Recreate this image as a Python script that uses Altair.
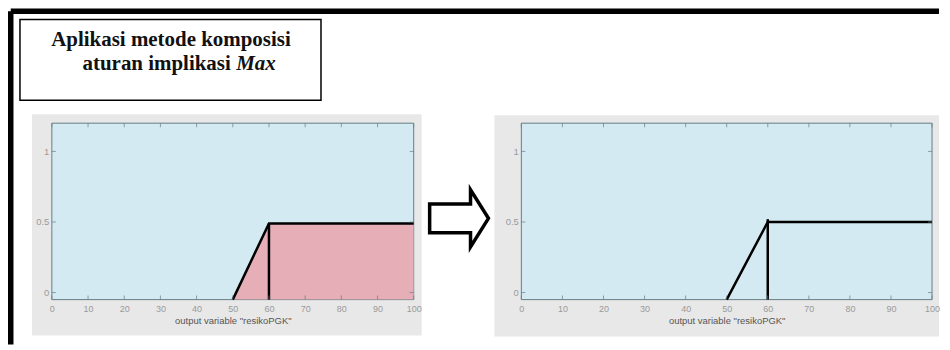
import altair as alt
import pandas as pd

# ---- data ----
x_ticks = [0, 10, 20, 30, 40, 50, 60, 70, 80, 90, 100]
y_ticks = [0, 0.5, 1]
y_floor = -0.05

# left panel: clipped consequent (implication)
left_x = [50, 60, 100]
left_mu = [y_floor, 0.49, 0.49]
left_vx = [60, 60]
left_vy = [y_floor, 0.49]

# right panel: composition result (Max)
right_x = [50, 60, 100]
right_mu = [y_floor, 0.5, 0.5]
right_vx = [60, 60]
right_vy = [y_floor, 0.52]

title_line1 = "Aplikasi metode komposisi"
title_line2a = "aturan implikasi"
title_line2b = "Max"
x_title = 'output variable "resikoPGK"'

BLUE = "#d3eaf2"
GRAY = "#e8e8e8"
BORDER = "#667c84"
FONT = "Liberation Sans"
SERIF = "Liberation Serif"

one = pd.DataFrame({"a": [0]})

xaxis = alt.Axis(values=x_ticks, format="d", grid=False, domain=False, ticks=False, tickSize=0,
                 labelColor="#9a9a9a", labelFont=FONT, labelFontSize=9, labelPadding=5,
                 labelFlush=False, title=x_title, titleFont=FONT, titleFontSize=9.5,
                 titleFontWeight="normal", titleColor="#555555", titlePadding=1.5, zindex=1)
yaxis = alt.Axis(values=y_ticks, format="~g", grid=False, domain=False, ticks=False, tickSize=0,
                 labelColor="#9a9a9a", labelFont=FONT, labelFontSize=9.5, labelPadding=3,
                 title=None, zindex=1)
xs = alt.Scale(domain=[0, 100], nice=False, zero=False)
ys = alt.Scale(domain=[-0.05, 1.2], nice=False, zero=False)


def X(f="x"):
    return alt.X(f"{f}:Q", scale=xs, axis=xaxis)


def Y(f="y"):
    return alt.Y(f"{f}:Q", scale=ys, axis=yaxis)


def panel(w, h, gray_box, xs_line, ys_line, vx, vy, fill):
    bg = alt.Chart(one).mark_rect(fill=GRAY).encode(
        x=alt.value(gray_box[0]), x2=alt.value(gray_box[1]),
        y=alt.value(gray_box[2]), y2=alt.value(gray_box[3]))
    plot_bg = alt.Chart(one).mark_rect(fill=BLUE, stroke=BORDER, strokeWidth=1).encode(
        x=alt.value(0), x2=alt.value(w), y=alt.value(0), y2=alt.value(h))
    layers = [bg, plot_bg]
    if fill:
        adf = pd.DataFrame({"x": xs_line, "y": ys_line, "y0": [y_floor] * len(xs_line)})
        layers.append(alt.Chart(adf).mark_area(color="#e9a3ad", opacity=0.85).encode(
            x=X(), y=Y(), y2="y0:Q"))
    ldf = pd.DataFrame({"x": xs_line + vx, "y": ys_line + vy,
                        "seg": ["a"] * len(xs_line) + ["b"] * len(vx),
                        "i": list(range(len(xs_line))) + list(range(len(vx)))})
    layers.append(alt.Chart(ldf).mark_line(color="black", strokeWidth=2.5).encode(
        x=X(), y=Y(), detail="seg:N", order="i:Q"))
    tx = pd.DataFrame({"x": x_ticks})
    ty = pd.DataFrame({"y": y_ticks})
    for yy in (h - 2, 2):
        layers.append(alt.Chart(tx).mark_tick(orient="vertical", size=4, thickness=1, color=BORDER).encode(
            x=X(), y=alt.value(yy)))
    for xx in (2, w - 2):
        layers.append(alt.Chart(ty).mark_tick(orient="horizontal", size=4, thickness=1, color=BORDER).encode(
            y=Y(), x=alt.value(xx)))
    return layers


LW, LH = 363, 177
RW, RH = 412, 177

left_layers = []
# outer frame
left_layers.append(alt.Chart(one).mark_rule(color="black", strokeWidth=5.5).encode(
    x=alt.value(-41.25), x2=alt.value(890), y=alt.value(-112.25)))
left_layers.append(alt.Chart(one).mark_rule(color="black", strokeWidth=5.5).encode(
    x=alt.value(-41.25), y=alt.value(-112.25), y2=alt.value(222)))
# title box
left_layers.append(alt.Chart(one).mark_rect(fill="white", stroke="black", strokeWidth=1.5).encode(
    x=alt.value(-32), x2=alt.value(270), y=alt.value(-104), y2=alt.value(-23)))
left_layers.append(alt.Chart(one).mark_text(font=SERIF, fontWeight="bold", fontSize=21, align="center",
                                            baseline="alphabetic", color="#111").encode(
    x=alt.value(119.5), y=alt.value(-77.5), text=alt.value(title_line1)))
left_layers.append(alt.Chart(one).mark_text(font=SERIF, fontWeight="bold", fontSize=21, align="right",
                                            baseline="alphabetic", color="#111").encode(
    x=alt.value(179.5), y=alt.value(-53.5), text=alt.value(title_line2a)))
left_layers.append(alt.Chart(one).mark_text(font=SERIF, fontWeight="bold", fontStyle="italic", fontSize=21,
                                            align="left", baseline="alphabetic", color="#111").encode(
    x=alt.value(185), y=alt.value(-53.5), text=alt.value(title_line2b)))
left_layers += panel(LW, LH, (-20, 371, -9, 213), left_x, left_mu, left_vx, left_vy, True)
# arrow
arrow_path = "M -1 -0.49 L 0.39 -0.49 L 0.39 -0.97 L 1 0 L 0.39 0.97 L 0.39 0.49 L -1 0.49 Z"
left_layers.append(alt.Chart(one).mark_point(shape=arrow_path, size=3481, filled=True, fill="white",
                                             stroke="black", strokeWidth=3.5, opacity=1).encode(
    x=alt.value(408.5), y=alt.value(95.5)))

left = alt.layer(*left_layers).properties(width=LW, height=LH)
right = alt.layer(*panel(RW, RH, (-27, 419, -8, 214), right_x, right_mu, right_vx, right_vy, False)).properties(
    width=RW, height=RH)

chart = alt.hconcat(left, right, spacing=108, bounds="flush").properties(
    padding=0, background="white").configure_view(stroke=None)

chart.save("out.html", embed_options={"renderer": "svg", "actions": False})
